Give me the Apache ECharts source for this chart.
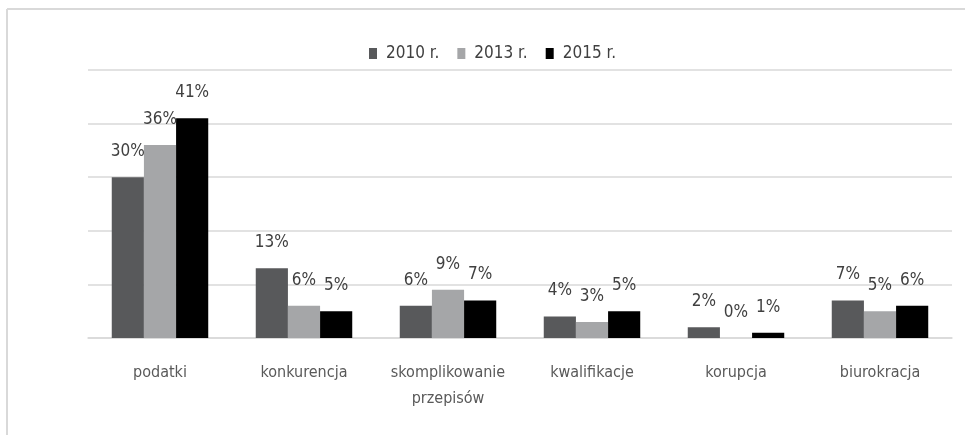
<!DOCTYPE html>
<html>
<head>
<meta charset="utf-8">
<script src="https://cdn.jsdelivr.net/npm/echarts@6/dist/echarts.min.js"></script>
<style>
  html, body { margin: 0; padding: 0; background: #fff; }
  #chart { width: 965px; height: 435px; }
</style>
</head>
<body>
<div id="chart"></div>
<script>
const categories = ['podatki', 'konkurencja', 'skomplikowanie\nprzepisów', 'kwalifikacje', 'korupcja', 'biurokracja']
const seriesNames = ['2010 r.', '2013 r.', '2015 r.']
const values2010 = [30, 13, 6, 4, 2, 7]
const values2013 = [36, 6, 9, 3, 0, 5]
const values2015 = [41, 5, 7, 5, 1, 6]
const colors = ['#58595b', '#a5a6a8', '#000000']

const font = '"DejaVu Sans Condensed", "Liberation Sans Narrow", sans-serif'

const chart = echarts.init(document.getElementById('chart'))

const makeSeries = (name, data, idx) => ({
  name: name,
  type: 'bar',
  data: data,
  barGap: '0%',
  barCategoryGap: '33%',
  itemStyle: { color: colors[idx] },
  label: {
    show: true,
    position: 'top',
    distance: 17,
    formatter: '{c}%',
    color: '#404040',
    fontFamily: font,
    fontSize: 17
  }
})

chart.setOption({
  animation: false,
  // ramka wykresu
  graphic: [
    { type: 'line', shape: { x1: 7, y1: 9, x2: 965, y2: 9 }, style: { stroke: '#d9d9d9', lineWidth: 2 } },
    { type: 'line', shape: { x1: 7, y1: 9, x2: 7, y2: 435 }, style: { stroke: '#d9d9d9', lineWidth: 2 } }
  ],
  legend: {
    data: seriesNames,
    top: 45,
    left: 369,
    padding: 0,
    itemWidth: 8,
    itemHeight: 11,
    itemGap: 18,
    icon: 'rect',
    textStyle: { color: '#404040', fontFamily: font, fontSize: 17, padding: [0, 0, 0, 4] }
  },
  grid: { left: 88, right: 13, top: 70, bottom: 97 },
  xAxis: {
    type: 'category',
    data: categories,
    axisLine: { lineStyle: { color: '#d9d9d9', width: 1.5 } },
    axisTick: { show: false },
    axisLabel: {
      color: '#595959',
      fontFamily: font,
      fontSize: 16,
      margin: 22,
      lineHeight: 26,
      interval: 0
    }
  },
  yAxis: {
    type: 'value',
    min: 0,
    max: 50,
    interval: 10,
    axisLabel: { show: false },
    axisLine: { show: false },
    axisTick: { show: false },
    splitLine: { lineStyle: { color: '#d9d9d9', width: 1.5 } }
  },
  series: [
    makeSeries(seriesNames[0], values2010, 0),
    makeSeries(seriesNames[1], values2013, 1),
    makeSeries(seriesNames[2], values2015, 2)
  ]
})
</script>
</body>
</html>
